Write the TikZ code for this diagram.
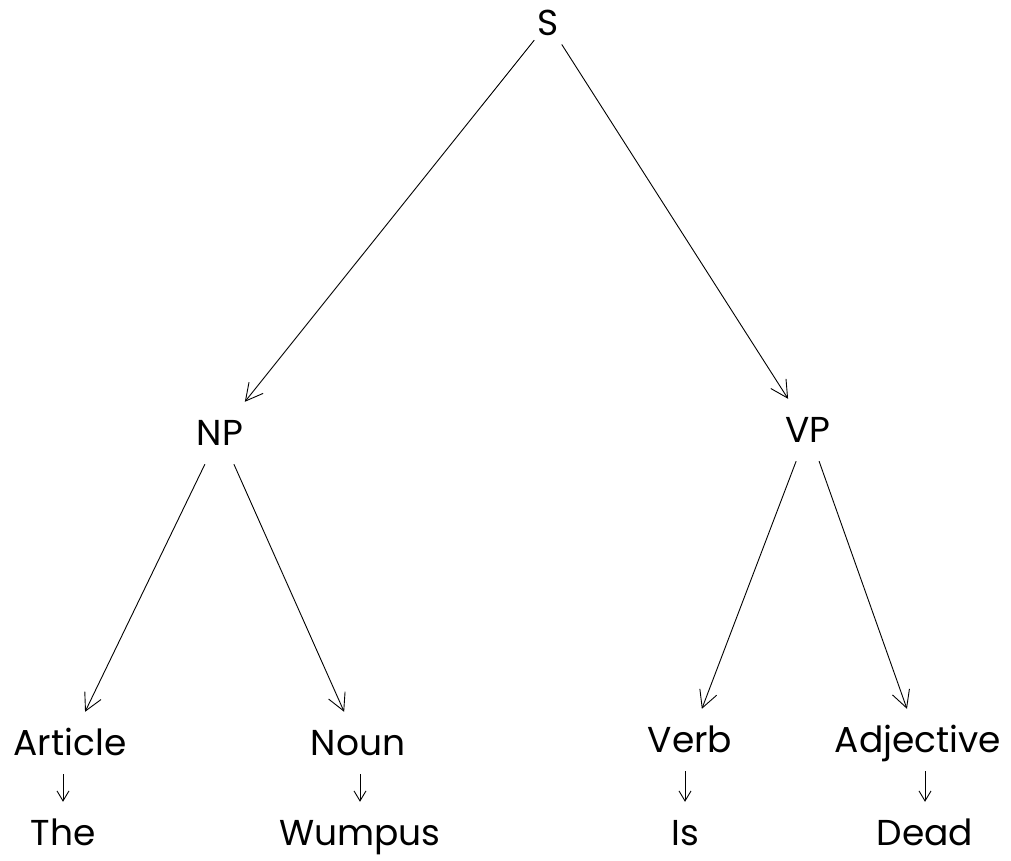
\documentclass[tikz,border=0pt]{standalone}
\usepackage{fontspec}
\setmainfont{Poppins}
\usetikzlibrary{arrows.meta}
\begin{document}
\begin{tikzpicture}[x=1pt,y=-1pt,
  word/.style={font=\fontsize{36}{42}\selectfont, inner xsep=3pt, inner ysep=17pt,
    text height=26pt, text depth=2pt},
  branch/.style={-{Straight Barb[length=17pt,width=18pt]}, line width=0.9pt},
  leaf/.style={-{Straight Barb[length=10pt,width=12pt]}, line width=0.9pt}]
\useasboundingbox (0,0) rectangle (1011,860);
\fill[white] (0,0) rectangle (1011,860);
\node[word] (S) at (548,23) {S};
\node[word] (NP) at (220,433) {NP};
\node[word] (VP) at (808,430) {VP};
\node[word] (Art) at (70,743) {Article};
\node[word] (Noun) at (358,743) {Noun};
\node[word] (Verb) at (690,740) {Verb};
\node[word] (Adj) at (918,740) {Adjective};
\node[word] (The) at (63,833) {The};
\node[word] (Wum) at (360,833) {Wumpus};
\node[word] (Is) at (685,833) {Is};
\node[word] (Dead) at (925,833) {Dead};
\draw[branch] (S) -- (NP);
\draw[branch] (S) -- (VP);
\draw[branch] (NP) -- (Art);
\draw[branch] (NP) -- (Noun);
\draw[branch] (VP) -- (Verb);
\draw[branch] (VP) -- (Adj);
\draw[leaf] (Art.south -| The) -- (The);
\draw[leaf] (Noun.south -| Wum) -- (Wum);
\draw[leaf] (Verb.south -| Is) -- (Is);
\draw[leaf] (Adj.south -| Dead) -- (Dead);
\end{tikzpicture}
\end{document}
